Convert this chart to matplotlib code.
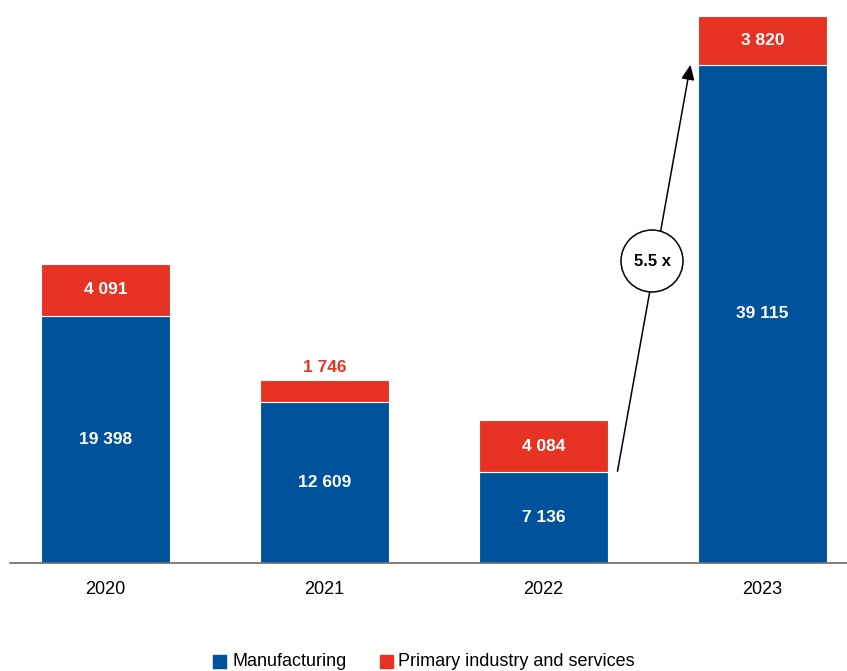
import matplotlib
matplotlib.use("Agg")
import matplotlib.pyplot as plt
from matplotlib.patches import Ellipse, FancyArrowPatch, Rectangle

plt.rcParams['font.family'] = ['Liberation Sans Narrow', 'Liberation Sans', 'DejaVu Sans']

years = ["2020", "2021", "2022", "2023"]
manufacturing = [19398, 12609, 7136, 39115]
primary_services = [4091, 1746, 4084, 3820]
labels_manufacturing = ["19 398", "12 609", "7 136", "39 115"]
labels_primary = ["4 091", "1 746", "4 084", "3 820"]
growth_label = "5.5 x"

BLUE = "#00539B"
RED = "#E63323"

W, H = 847, 671
fig = plt.figure(figsize=(W / 100, H / 100), dpi=100)
ax = fig.add_axes([10 / W, (H - 563) / H, (W - 10) / W, (563 - 16) / H])

x = list(range(len(years)))
bw = 129 / 219
ax.bar(x, manufacturing, width=bw, color=BLUE, edgecolor="white", linewidth=0.8, zorder=2)
ax.bar(x, primary_services, width=bw, bottom=manufacturing, color=RED,
       edgecolor="white", linewidth=0.8, zorder=2)

total_max = max(m + p for m, p in zip(manufacturing, primary_services))
ax.set_ylim(0, total_max)
ax.set_xlim(-(105.5 - 10) / 219, (847 - 105.5) / 219)

for i, (m, p) in enumerate(zip(manufacturing, primary_services)):
    ax.text(i, m / 2, labels_manufacturing[i], ha="center", va="center",
            color="white", fontsize=12.5, fontweight="bold", zorder=4)
    if p > 3000:
        ax.text(i, m + p / 2, labels_primary[i], ha="center", va="center",
                color="white", fontsize=12.5, fontweight="bold", zorder=4)
    else:
        ax.text(i, m + p + 1000, labels_primary[i], ha="center", va="center",
                color=RED, fontsize=12.5, fontweight="bold", zorder=4)

# growth arrow from the 2022 total up to the 2023 level
start = (2 + (617 - 543.5) / 219, (563 - 474) / 547 * total_max)
end = (3 + (690 - 761.5) / 219, (563 - 62) / 547 * total_max)
arrow = FancyArrowPatch(start, end, arrowstyle="-|>,head_length=9,head_width=4",
                        mutation_scale=1, color="black", linewidth=1.1, zorder=3)
ax.add_patch(arrow)

# circled multiplier sitting on the arrow
cx_px, cy_px, r_px = 652, 261, 31
circ_center = (2 + (cx_px - 543.5) / 219, (563 - cy_px) / 547 * total_max)
ell = Ellipse(circ_center, width=2 * r_px / 219, height=2 * r_px / 547 * total_max,
              facecolor="white", edgecolor="black", linewidth=1.1, zorder=4)
ax.add_patch(ell)
ax.text(circ_center[0], circ_center[1], growth_label, ha="center", va="center",
        fontsize=12, fontweight="bold", color="black", zorder=5)

ax.set_xticks(x)
ax.set_xticklabels(years, fontsize=13)
ax.tick_params(axis="x", length=0, pad=13)
ax.set_yticks([])
for s in ["top", "right", "left"]:
    ax.spines[s].set_visible(False)
ax.spines["bottom"].set_color("#6b6b6b")
ax.spines["bottom"].set_linewidth(1.2)

# legend
fig.patches.append(Rectangle((213 / W, (H - 668) / H), 13 / W, 13 / H,
                             transform=fig.transFigure, color=BLUE))
fig.text(232 / W, (H - 661) / H, "Manufacturing", fontsize=13, va="center", ha="left")
fig.patches.append(Rectangle((380 / W, (H - 668) / H), 13 / W, 13 / H,
                             transform=fig.transFigure, color=RED))
fig.text(398 / W, (H - 661) / H, "Primary industry and services", fontsize=13,
         va="center", ha="left")

fig.savefig("out.png", dpi=100, facecolor="white")
